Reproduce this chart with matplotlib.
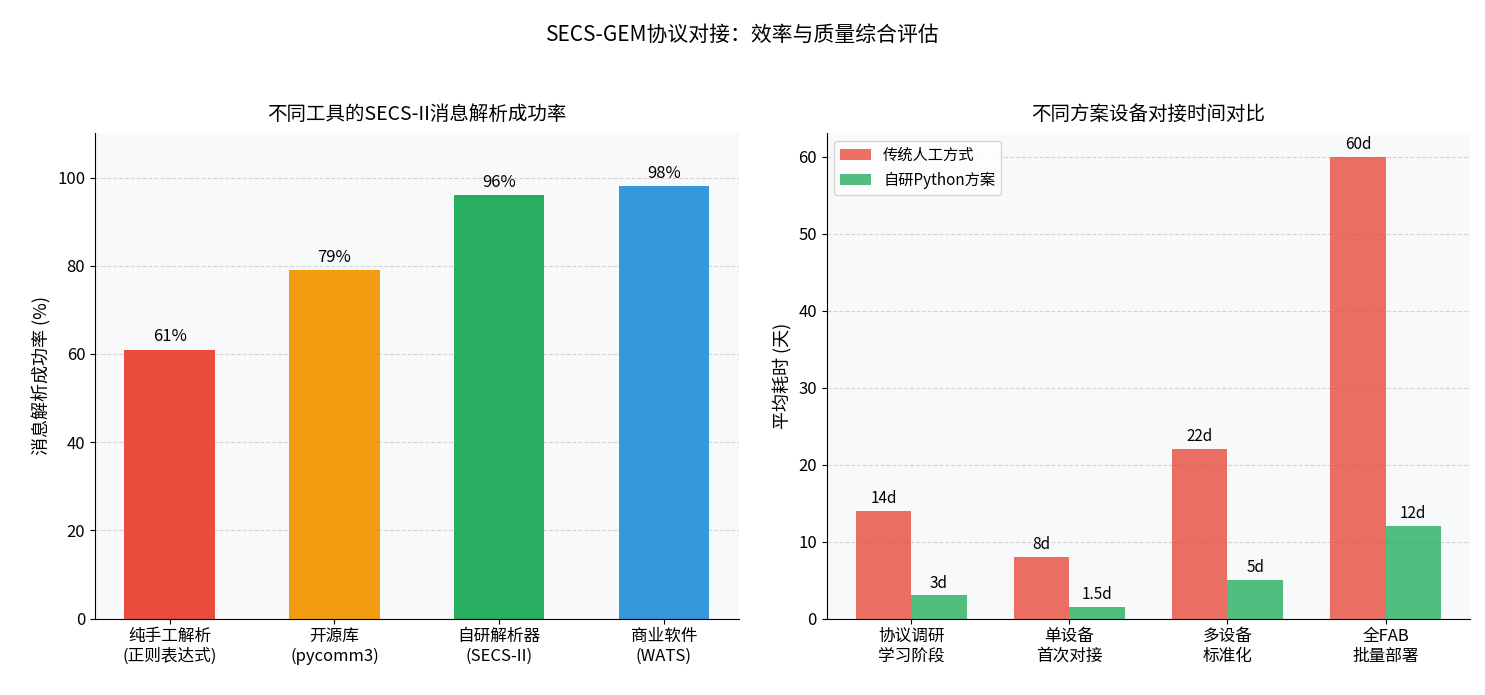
import numpy as np
import matplotlib
matplotlib.use("Agg")
import matplotlib.pyplot as plt

plt.rcParams['font.family'] = ['Noto Sans CJK SC', 'DejaVu Sans']
plt.rcParams['axes.unicode_minus'] = False

# left panel data
tools = ["纯手工解析\n(正则表达式)", "开源库\n(pycomm3)", "自研解析器\n(SECS-II)", "商业软件\n(WATS)"]
success_rate = [61, 79, 96, 98]
tool_colors = ["#e74c3c", "#f39c12", "#27ae60", "#3498db"]

# right panel data
stages = ["协议调研\n学习阶段", "单设备\n首次对接", "多设备\n标准化", "全FAB\n批量部署"]
manual_days = [14, 8, 22, 60]
python_days = [3, 1.5, 5, 12]
manual_labels = ["14d", "8d", "22d", "60d"]
python_labels = ["3d", "1.5d", "5d", "12d"]

fig, (ax1, ax2) = plt.subplots(1, 2, figsize=(14.85, 6.95), dpi=100)
fig.subplots_adjust(left=0.064, right=0.99, top=0.808, bottom=0.11, wspace=0.137)
fig.suptitle("SECS-GEM协议对接：效率与质量综合评估", fontsize=15, y=0.965)

# --- left
x = np.arange(len(tools))
bars = ax1.bar(x, success_rate, width=0.55, color=tool_colors)
for b, v in zip(bars, success_rate):
    ax1.text(b.get_x() + b.get_width() / 2, v + 1, f"{v}%", ha="center", va="bottom", fontsize=12)
ax1.set_xticks(x)
ax1.set_xticklabels(tools, fontsize=12)
ax1.set_ylim(0, 110)
ax1.set_ylabel("消息解析成功率 (%)", fontsize=13)
ax1.set_title("不同工具的SECS-II消息解析成功率", fontsize=14, pad=10)

# --- right
x2 = np.arange(len(stages))
w = 0.35
b1 = ax2.bar(x2 - w / 2, manual_days, w, color="#e74c3c", alpha=0.8, label="传统人工方式")
b2 = ax2.bar(x2 + w / 2, python_days, w, color="#27ae60", alpha=0.8, label="自研Python方案")
for b, lab in zip(b1, manual_labels):
    ax2.text(b.get_x() + b.get_width() / 2, b.get_height() + 0.5, lab, ha="center", va="bottom", fontsize=11)
for b, lab in zip(b2, python_labels):
    ax2.text(b.get_x() + b.get_width() / 2, b.get_height() + 0.5, lab, ha="center", va="bottom", fontsize=11)
ax2.set_xticks(x2)
ax2.set_xticklabels(stages, fontsize=12)
ax2.set_ylim(0, 63)
ax2.set_ylabel("平均耗时 (天)", fontsize=13)
ax2.set_title("不同方案设备对接时间对比", fontsize=14, pad=10)
ax2.legend(loc="upper left", fontsize=11)

for ax in (ax1, ax2):
    ax.set_facecolor("#f8f9fa")
    ax.grid(axis="y", linestyle="--", alpha=0.5)
    ax.set_axisbelow(True)
    ax.spines["top"].set_visible(False)
    ax.spines["right"].set_visible(False)
    ax.tick_params(axis="y", labelsize=12)

plt.savefig("out.png", dpi=100)
